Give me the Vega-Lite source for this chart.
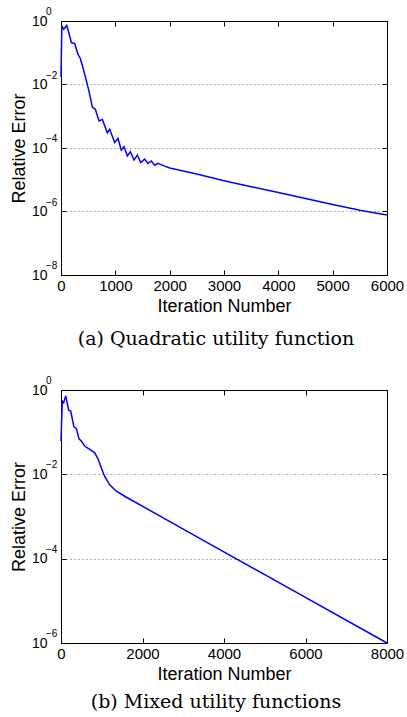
{
  "$schema": "https://vega.github.io/schema/vega-lite/v6.json",
  "padding": {"left": 9, "top": 6, "right": 10, "bottom": 3},
  "bounds": "flush",
  "spacing": 115,
  "config": {
    "view": {"stroke": "black", "strokeWidth": 1},
    "axis": {"labelFont": "Liberation Sans", "titleFont": "Liberation Sans", "labelFontSize": 15, "titleFontSize": 18, "titleFontWeight": "normal", "labelColor": "black", "titleColor": "black", "domainColor": "black", "tickColor": "black", "tickSize": -5, "grid": false, "labelPadding": 8, "titlePadding": 4, "labelFlush": false, "labelOverlap": false},
    "axisY": {"labelFontSize": 14, "labelPadding": 19, "titlePadding": 3},
    "title": {"font": "DejaVu Serif", "fontSize": 19, "fontWeight": "normal", "color": "black"},
    "line": {"color": "#0000ff", "strokeWidth": 1.5},
    "text": {"font": "Liberation Sans", "fontSize": 10, "color": "black"}
  },
  "datasets": {
    "a": [
      {"iter": 0, "err": 0.0174}, {"iter": 15, "err": 0.692}, {"iter": 50, "err": 0.55}, {"iter": 105, "err": 0.724},
      {"iter": 150, "err": 0.398}, {"iter": 190, "err": 0.209}, {"iter": 252, "err": 0.195}, {"iter": 313, "err": 0.0891},
      {"iter": 356, "err": 0.0661}, {"iter": 400, "err": 0.0355}, {"iter": 454, "err": 0.0162}, {"iter": 520, "err": 0.00562},
      {"iter": 577, "err": 0.00195}, {"iter": 632, "err": 0.00166}, {"iter": 700, "err": 0.000708}, {"iter": 761, "err": 0.000794},
      {"iter": 853, "err": 0.000302}, {"iter": 896, "err": 0.000389}, {"iter": 988, "err": 0.000148}, {"iter": 1049, "err": 0.0002},
      {"iter": 1110, "err": 8.51e-5}, {"iter": 1160, "err": 1.10e-4}, {"iter": 1221, "err": 5.62e-5}, {"iter": 1276, "err": 7.59e-5},
      {"iter": 1344, "err": 4.17e-5}, {"iter": 1405, "err": 6.03e-5}, {"iter": 1466, "err": 3.47e-5}, {"iter": 1540, "err": 4.47e-5},
      {"iter": 1601, "err": 3.24e-5}, {"iter": 1662, "err": 3.89e-5}, {"iter": 1724, "err": 2.88e-5}, {"iter": 1785, "err": 3.31e-5},
      {"iter": 1908, "err": 2.69e-5}, {"iter": 2000, "err": 2.34e-5}, {"iter": 2500, "err": 1.51e-5}, {"iter": 3000, "err": 9.33e-6},
      {"iter": 3500, "err": 6.03e-6}, {"iter": 4000, "err": 3.98e-6}, {"iter": 4500, "err": 2.57e-6}, {"iter": 5000, "err": 1.66e-6},
      {"iter": 5500, "err": 1.10e-6}, {"iter": 6000, "err": 7.76e-7}
    ],
    "b": [
      {"iter": 0, "err": 0.0617}, {"iter": 32, "err": 0.55}, {"iter": 66, "err": 0.501}, {"iter": 115, "err": 0.724},
      {"iter": 150, "err": 0.501}, {"iter": 189, "err": 0.331}, {"iter": 238, "err": 0.316}, {"iter": 280, "err": 0.2},
      {"iter": 319, "err": 0.132}, {"iter": 376, "err": 0.123}, {"iter": 442, "err": 0.0692}, {"iter": 498, "err": 0.0617},
      {"iter": 582, "err": 0.0468}, {"iter": 704, "err": 0.0389}, {"iter": 827, "err": 0.0324}, {"iter": 908, "err": 0.0234},
      {"iter": 990, "err": 0.0141}, {"iter": 1072, "err": 0.00891}, {"iter": 1195, "err": 0.00562}, {"iter": 1358, "err": 0.00398},
      {"iter": 1563, "err": 0.00302}, {"iter": 3000, "err": 0.000501}, {"iter": 5000, "err": 4.17e-5}, {"iter": 8000, "err": 1e-6}
    ],
    "expA": [
      {"v": 1, "e": "0"}, {"v": 0.01, "e": "−2"}, {"v": 0.0001, "e": "−4"}, {"v": 1e-6, "e": "−6"}, {"v": 1e-8, "e": "−8"}
    ],
    "expB": [
      {"v": 1, "e": "0"}, {"v": 0.01, "e": "−2"}, {"v": 0.0001, "e": "−4"}, {"v": 1e-6, "e": "−6"}
    ]
  },
  "vconcat": [
    {
      "width": 326, "height": 254,
      "title": {"text": "(a) Quadratic utility function", "orient": "bottom", "offset": 15, "dx": -8},
      "layer": [
        {
          "data": {"name": "a"},
          "mark": {"type": "line"},
          "encoding": {
            "x": {"field": "iter", "type": "quantitative", "scale": {"domain": [0, 6000], "nice": false, "zero": false},
                  "axis": {"title": "Iteration Number", "values": [0, 1000, 2000, 3000, 4000, 5000, 6000], "format": "d"}},
            "y": {"field": "err", "type": "quantitative", "scale": {"type": "log", "domain": [1e-8, 1], "nice": false},
                  "axis": {"title": "Relative Error", "values": [1, 0.01, 0.0001, 1e-6, 1e-8], "labelExpr": "'10'"}}
          }
        },
        {
          "data": {"name": "a"},
          "mark": {"type": "line", "strokeOpacity": 0},
          "encoding": {
            "x": {"field": "iter", "type": "quantitative",
                  "axis": {"orient": "top", "title": null, "labels": false, "values": [1000, 2000, 3000, 4000, 5000]}},
            "y": {"field": "err", "type": "quantitative",
                  "axis": {"orient": "right", "title": null, "labels": false, "values": [0.01, 0.0001, 1e-6], "grid": true, "gridDash": [1, 3], "gridColor": "#666", "gridWidth": 1}}
          }
        },
        {
          "data": {"name": "expA"},
          "mark": {"type": "text", "align": "left", "baseline": "middle", "dx": -15, "dy": -9, "clip": false},
          "encoding": {
            "x": {"datum": 0, "type": "quantitative", "axis": null},
            "y": {"field": "v", "type": "quantitative", "axis": null},
            "text": {"field": "e"}
          }
        }
      ],
      "resolve": {"axis": {"x": "independent", "y": "independent"}}
    },
    {
      "width": 326, "height": 253,
      "title": {"text": "(b) Mixed utility functions", "orient": "bottom", "offset": 10, "dx": -8},
      "layer": [
        {
          "data": {"name": "b"},
          "mark": {"type": "line"},
          "encoding": {
            "x": {"field": "iter", "type": "quantitative", "scale": {"domain": [0, 8000], "nice": false, "zero": false},
                  "axis": {"title": "Iteration Number", "values": [0, 2000, 4000, 6000, 8000], "format": "d"}},
            "y": {"field": "err", "type": "quantitative", "scale": {"type": "log", "domain": [1e-6, 1], "nice": false},
                  "axis": {"title": "Relative Error", "values": [1, 0.01, 0.0001, 1e-6], "labelExpr": "'10'"}}
          }
        },
        {
          "data": {"name": "b"},
          "mark": {"type": "line", "strokeOpacity": 0},
          "encoding": {
            "x": {"field": "iter", "type": "quantitative",
                  "axis": {"orient": "top", "title": null, "labels": false, "values": [2000, 4000, 6000]}},
            "y": {"field": "err", "type": "quantitative",
                  "axis": {"orient": "right", "title": null, "labels": false, "values": [0.01, 0.0001], "grid": true, "gridDash": [1, 3], "gridColor": "#666", "gridWidth": 1}}
          }
        },
        {
          "data": {"name": "expB"},
          "mark": {"type": "text", "align": "left", "baseline": "middle", "dx": -15, "dy": -9, "clip": false},
          "encoding": {
            "x": {"datum": 0, "type": "quantitative", "axis": null},
            "y": {"field": "v", "type": "quantitative", "axis": null},
            "text": {"field": "e"}
          }
        }
      ],
      "resolve": {"axis": {"x": "independent", "y": "independent"}}
    }
  ]
}
